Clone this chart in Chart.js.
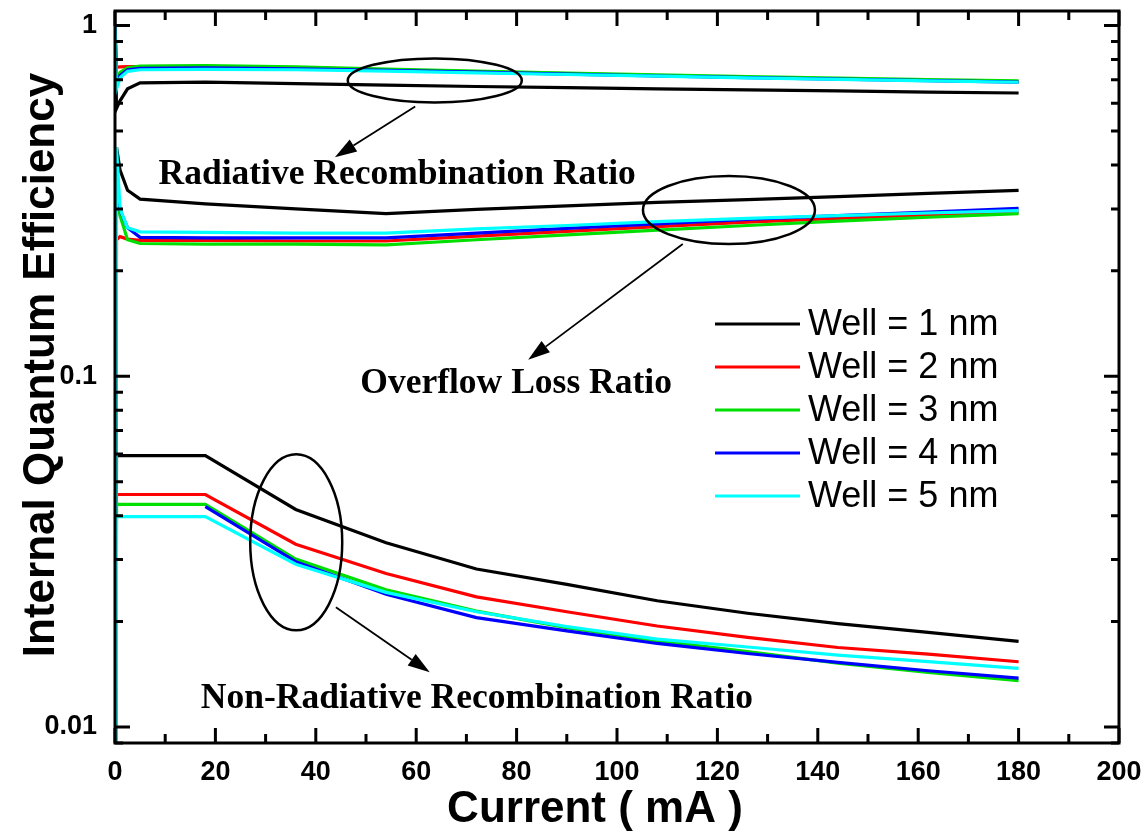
<!DOCTYPE html>
<html><head><meta charset="utf-8">
<script src="https://cdn.jsdelivr.net/npm/chart.js@4.4.0/dist/chart.umd.min.js"></script>
<style>html,body{margin:0;padding:0;background:#fff;}canvas{display:block;}</style>
</head><body>
<canvas id="c" width="1146" height="834"></canvas>
<script>
// ---- data ----
const current = [0, 0.3, 1, 2.5, 5, 18, 36, 54, 72, 90, 108, 126, 144, 162, 180];
const wellLabels = ['Well = 1 nm', 'Well = 2 nm', 'Well = 3 nm', 'Well = 4 nm', 'Well = 5 nm'];
const wellColors = ['#000000', '#ff0000', '#00e000', '#0000ff', '#00ffff'];

const radiative1nm = [1.0, 0.58, 0.61, 0.66, 0.686, 0.690, 0.683, 0.676, 0.670, 0.665, 0.660, 0.655, 0.651, 0.646, 0.642];
const radiative2nm = [1.0, 0.76, 0.762, 0.763, 0.764, 0.765, 0.759, 0.748, 0.738, 0.729, 0.720, 0.712, 0.705, 0.698, 0.692];
const radiative3nm = [1.0, 0.70, 0.735, 0.758, 0.766, 0.768, 0.762, 0.751, 0.741, 0.732, 0.723, 0.715, 0.708, 0.701, 0.695];
const radiative4nm = [1.0, 0.68, 0.72, 0.748, 0.755, 0.757, 0.753, 0.745, 0.736, 0.727, 0.718, 0.710, 0.703, 0.696, 0.690];
const radiative5nm = [1.0, 0.66, 0.71, 0.74, 0.748, 0.750, 0.748, 0.741, 0.733, 0.725, 0.717, 0.709, 0.702, 0.695, 0.689];

const overflow1nm = [0.001, 0.45, 0.387, 0.339, 0.320, 0.310, 0.300, 0.291, 0.299, 0.306, 0.313, 0.319, 0.325, 0.332, 0.339];
const overflow2nm = [0.001, 0.245, 0.25, 0.246, 0.244, 0.244, 0.243, 0.243, 0.251, 0.259, 0.267, 0.275, 0.282, 0.288, 0.294];
const overflow3nm = [0.001, 0.33, 0.287, 0.245, 0.239, 0.238, 0.238, 0.237, 0.245, 0.253, 0.261, 0.269, 0.277, 0.284, 0.291];
const overflow4nm = [0.001, 0.36, 0.298, 0.265, 0.249, 0.248, 0.248, 0.248, 0.256, 0.264, 0.272, 0.280, 0.287, 0.294, 0.301];
const overflow5nm = [0.001, 0.45, 0.30, 0.265, 0.258, 0.257, 0.256, 0.256, 0.263, 0.269, 0.276, 0.282, 0.287, 0.292, 0.2965];

const nonRad1nm = [0.001, 0.0594, 0.0594, 0.0594, 0.0594, 0.0594, 0.0417, 0.0335, 0.0282, 0.0255, 0.0229, 0.0211, 0.0197, 0.0186, 0.01753];
const nonRad2nm = [0.001, 0.046, 0.046, 0.046, 0.046, 0.046, 0.0332, 0.0274, 0.0235, 0.0213, 0.0194, 0.0180, 0.01685, 0.01613, 0.01534];
const nonRad3nm = [0.001, 0.0431, 0.0431, 0.0431, 0.0431, 0.0431, 0.0301, 0.0246, 0.0214, 0.0192, 0.0176, 0.0164, 0.0152, 0.0143, 0.01355];
const nonRad4nm = [null, null, null, null, null, 0.0425, 0.0296, 0.0239, 0.0205, 0.0188, 0.0173, 0.0162, 0.01528, 0.01446, 0.01378];
const nonRad5nm = [0.001, 0.0398, 0.0398, 0.0398, 0.0398, 0.0398, 0.0291, 0.0242, 0.0213, 0.01934, 0.0178, 0.0169, 0.01603, 0.01535, 0.01469];

const yTickLabels = ['0.01', '0.1', '1'];
const xTickStep = 20;

// annotation placement (data units) and labels
const annotationTexts = ['Radiative Recombination Ratio', 'Overflow Loss Ratio', 'Non-Radiative Recombination Ratio'];
const annotations = [
  {type: 'ellipse', x: 63.7, y: 0.6975, rx: 87, ry: 22},
  {type: 'arrow', x1: 59.8, y1: 0.588, x2: 43.8, y2: 0.421},
  {type: 'text', x: 56.2, y: 0.353, text: annotationTexts[0]},
  {type: 'ellipse', x: 122.3, y: 0.2977, rx: 86, ry: 34},
  {type: 'arrow', x1: 113.1, y1: 0.2382, x2: 82.3, y2: 0.1114},
  {type: 'text', x: 79.9, y: 0.0898, text: annotationTexts[1]},
  {type: 'ellipse', x: 36.1, y: 0.0336, rx: 46, ry: 88},
  {type: 'arrow', x1: 44.0, y1: 0.02195, x2: 62.7, y2: 0.01433},
  {type: 'text', x: 72.1, y: 0.01132, text: annotationTexts[2]}
];

// ---- build datasets ----
const groups = [
  [radiative1nm, radiative2nm, radiative3nm, radiative4nm, radiative5nm],
  [overflow1nm, overflow2nm, overflow3nm, overflow4nm, overflow5nm],
  [nonRad1nm, nonRad2nm, nonRad3nm, nonRad4nm, nonRad5nm]
];
const datasets = [];
groups.forEach((g, gi) => {
  g.forEach((vals, wi) => {
    datasets.push({
      label: wellLabels[wi],
      data: current.map((x, i) => ({x: x, y: vals[i]})),
      borderColor: wellColors[wi],
      backgroundColor: wellColors[wi],
      borderWidth: 3.2,
      pointRadius: 0,
      tension: 0,
      fill: false,
      spanGaps: false,
      order: 4 - wi
    });
  });
});

const isPow10 = v => Math.abs(Math.log10(v) - Math.round(Math.log10(v))) < 1e-6;
const zeroPad = s => { s.paddingTop = 0; s.paddingBottom = 0; s.paddingLeft = 0; s.paddingRight = 0; };

const framePlugin = {
  id: 'frame',
  afterDraw(chart) {
    const ctx = chart.ctx;
    const a = chart.chartArea;
    const xs = chart.scales.x, ys = chart.scales.y;
    ctx.save();
    ctx.strokeStyle = '#000';
    ctx.lineWidth = 3;
    ctx.lineCap = 'butt';
    // ticks
    ctx.beginPath();
    for (let v = 0; v <= 200; v += 10) {
      const px = xs.getPixelForValue(v);
      const len = (v % xTickStep === 0) ? 15 : 9;
      ctx.moveTo(px, a.bottom); ctx.lineTo(px, a.bottom - len);
      ctx.moveTo(px, a.top); ctx.lineTo(px, a.top + len);
    }
    for (let d = -3; d <= 0; d++) {
      for (let m = 1; m <= 9; m++) {
        const v = m * Math.pow(10, d);
        if (v < ys.min || v > ys.max) continue;
        const py = ys.getPixelForValue(v);
        const len = m === 1 ? 15 : 8;
        ctx.moveTo(a.left, py); ctx.lineTo(a.left + len, py);
        ctx.moveTo(a.right, py); ctx.lineTo(a.right - len, py);
      }
    }
    ctx.stroke();
    // frame
    ctx.lineWidth = 3;
    ctx.strokeRect(a.left, a.top, a.right - a.left, a.bottom - a.top);

    // annotations
    const X = v => xs.getPixelForValue(v);
    const Y = v => ys.getPixelForValue(v);
    annotations.forEach(an => {
      if (an.type === 'ellipse') {
        ctx.lineWidth = 2.5;
        ctx.beginPath();
        ctx.ellipse(X(an.x), Y(an.y), an.rx, an.ry, 0, 0, Math.PI * 2);
        ctx.stroke();
      } else if (an.type === 'arrow') {
        const x1 = X(an.x1), y1 = Y(an.y1), x2 = X(an.x2), y2 = Y(an.y2);
        const ang = Math.atan2(y2 - y1, x2 - x1);
        const hl = 22, hw = 7;
        const bx = x2 - hl * Math.cos(ang), by = y2 - hl * Math.sin(ang);
        ctx.lineWidth = 1.8;
        ctx.beginPath(); ctx.moveTo(x1, y1); ctx.lineTo(bx, by); ctx.stroke();
        ctx.fillStyle = '#000';
        ctx.beginPath();
        ctx.moveTo(x2, y2);
        ctx.lineTo(bx + hw * Math.sin(ang), by - hw * Math.cos(ang));
        ctx.lineTo(bx - hw * Math.sin(ang), by + hw * Math.cos(ang));
        ctx.closePath(); ctx.fill();
      } else if (an.type === 'text') {
        ctx.fillStyle = '#000';
        ctx.font = 'bold 35.5px "Liberation Serif", "Times New Roman", serif';
        ctx.textAlign = 'center';
        ctx.textBaseline = 'alphabetic';
        ctx.fillText(an.text, X(an.x), Y(an.y));
      }
    });

    // legend
    const lx0 = a.left + 600, lx1 = a.left + 685, ltx = a.left + 693;
    ctx.font = '36px "Liberation Sans", Arial, sans-serif';
    ctx.textAlign = 'left';
    ctx.textBaseline = 'middle';
    wellLabels.forEach((lab, i) => {
      const yy = a.top + 313 + i * 43;
      ctx.strokeStyle = wellColors[i];
      ctx.lineWidth = 3.2;
      ctx.beginPath(); ctx.moveTo(lx0, yy); ctx.lineTo(lx1, yy); ctx.stroke();
      ctx.fillStyle = '#000';
      ctx.fillText(lab, ltx, yy + 1);
    });

    // axis titles
    ctx.fillStyle = '#000';
    ctx.font = 'bold 44px "Liberation Sans", Arial, sans-serif';
    ctx.textAlign = 'center';
    ctx.textBaseline = 'alphabetic';
    ctx.fillText('Current ( mA )', 595, 822);
    ctx.save();
    ctx.translate(54, 365);
    ctx.rotate(-Math.PI / 2);
    ctx.fillText('Internal Quantum Efficiency', 0, 0);
    ctx.restore();
    ctx.restore();
  }
};

new Chart(document.getElementById('c'), {
  type: 'line',
  data: {datasets: datasets},
  options: {
    responsive: false,
    animation: false,
    devicePixelRatio: 1,
    layout: {padding: {top: 11, right: 27, left: 0, bottom: 0}},
    plugins: {legend: {display: false}, tooltip: {enabled: false}},
    scales: {
      x: {
        type: 'linear', min: 0, max: 200,
        grid: {display: false, drawTicks: false},
        border: {display: false},
        ticks: {stepSize: xTickStep, padding: 13, color: '#000', maxRotation: 0,
          font: {family: '"Liberation Sans", Arial, sans-serif', size: 27, weight: 'bold'}},
        afterFit: s => { s.height = 91; zeroPad(s); }
      },
      y: {
        type: 'logarithmic', min: 0.009, max: 1.1,
        grid: {display: false, drawTicks: false},
        border: {display: false},
        ticks: {
          autoSkip: false, padding: 18, color: '#000',
          font: {family: '"Liberation Sans", Arial, sans-serif', size: 27, weight: 'bold'},
          callback: (v) => {
            if (!isPow10(v)) return '';
            const k = Math.round(Math.log10(v)) + 2;
            return yTickLabels[k] !== undefined ? yTickLabels[k] : '';
          }
        },
        afterFit: s => { s.width = 115; zeroPad(s); }
      }
    }
  },
  plugins: [framePlugin]
});
</script>
</body></html>
